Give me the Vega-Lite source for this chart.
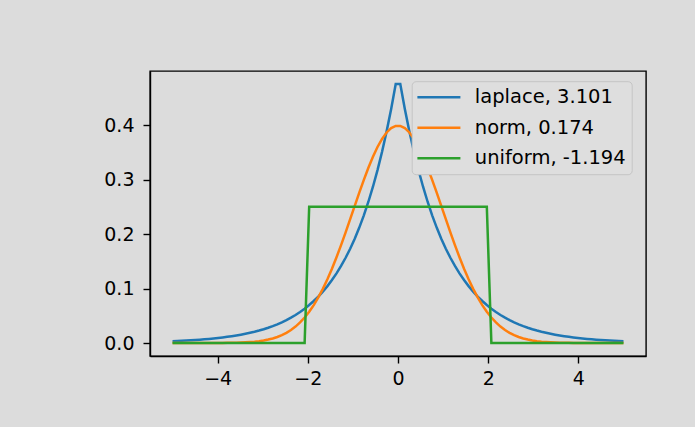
{
"$schema": "https://vega.github.io/schema/vega-lite/v6.json",
"width": 496, "height": 285,
"autosize": {"type": "none"},
"padding": {"left": 150, "top": 71, "right": 49, "bottom": 71},
"background": "#dcdcdc",
"config": {
  "font": "DejaVu Sans",
  "view": {"stroke": "#000000", "strokeWidth": 1.4},
  "axis": {"domainColor": "#000000", "domainWidth": 1.4, "tickColor": "#000000", "tickWidth": 1.4, "tickSize": 7, "labelPadding": 7, "labelFont": "DejaVu Sans", "labelFontSize": 19, "labelColor": "#000000", "grid": false, "title": null},
  "axisY": {"labelPadding": 9},
  "axisX": {"labelPadding": 6}
},
"data": {"values": [
{"x":-5,"l":0.003369,"n":0.0000015,"u":0},
{"x":-4.89899,"l":0.003727,"n":0.0000025,"u":0},
{"x":-4.79798,"l":0.004123,"n":0.000004,"u":0},
{"x":-4.69697,"l":0.004561,"n":0.0000065,"u":0},
{"x":-4.59596,"l":0.005046,"n":0.0000103,"u":0},
{"x":-4.49495,"l":0.005582,"n":0.0000164,"u":0},
{"x":-4.39394,"l":0.006176,"n":0.0000256,"u":0},
{"x":-4.29293,"l":0.006832,"n":0.0000397,"u":0},
{"x":-4.19192,"l":0.007558,"n":0.000061,"u":0},
{"x":-4.09091,"l":0.008361,"n":0.0000927,"u":0},
{"x":-3.9899,"l":0.00925,"n":0.000139,"u":0},
{"x":-3.88889,"l":0.010233,"n":0.000208,"u":0},
{"x":-3.78788,"l":0.011321,"n":0.000306,"u":0},
{"x":-3.68687,"l":0.012524,"n":0.000446,"u":0},
{"x":-3.58586,"l":0.013855,"n":0.000644,"u":0},
{"x":-3.48485,"l":0.015328,"n":0.00092,"u":0},
{"x":-3.38384,"l":0.016957,"n":0.001302,"u":0},
{"x":-3.28283,"l":0.018759,"n":0.001823,"u":0},
{"x":-3.18182,"l":0.020753,"n":0.002527,"u":0},
{"x":-3.08081,"l":0.022959,"n":0.003467,"u":0},
{"x":-2.9798,"l":0.025399,"n":0.004707,"u":0},
{"x":-2.87879,"l":0.028099,"n":0.006327,"u":0},
{"x":-2.77778,"l":0.031085,"n":0.008419,"u":0},
{"x":-2.67677,"l":0.034389,"n":0.011091,"u":0},
{"x":-2.57576,"l":0.038044,"n":0.014465,"u":0},
{"x":-2.47475,"l":0.042088,"n":0.01867,"u":0},
{"x":-2.37374,"l":0.046561,"n":0.023846,"u":0},
{"x":-2.27273,"l":0.05151,"n":0.030146,"u":0},
{"x":-2.17172,"l":0.056985,"n":0.037741,"u":0},
{"x":-2.07071,"l":0.063042,"n":0.046757,"u":0},
{"x":-1.9697,"l":0.069742,"n":0.057336,"u":0.25},
{"x":-1.86869,"l":0.077155,"n":0.069591,"u":0.25},
{"x":-1.76768,"l":0.085355,"n":0.083638,"u":0.25},
{"x":-1.66667,"l":0.094427,"n":0.099476,"u":0.25},
{"x":-1.56566,"l":0.104463,"n":0.117117,"u":0.25},
{"x":-1.46465,"l":0.115566,"n":0.13649,"u":0.25},
{"x":-1.36364,"l":0.127849,"n":0.157443,"u":0.25},
{"x":-1.26263,"l":0.141438,"n":0.179776,"u":0.25},
{"x":-1.16162,"l":0.156471,"n":0.203194,"u":0.25},
{"x":-1.06061,"l":0.173102,"n":0.227326,"u":0.25},
{"x":-0.9596,"l":0.1915,"n":0.251745,"u":0.25},
{"x":-0.85859,"l":0.211854,"n":0.275957,"u":0.25},
{"x":-0.75758,"l":0.234371,"n":0.299427,"u":0.25},
{"x":-0.65657,"l":0.259282,"n":0.321596,"u":0.25},
{"x":-0.55556,"l":0.28684,"n":0.341893,"u":0.25},
{"x":-0.45455,"l":0.317327,"n":0.359782,"u":0.25},
{"x":-0.35354,"l":0.351054,"n":0.374774,"u":0.25},
{"x":-0.25253,"l":0.388367,"n":0.386424,"u":0.25},
{"x":-0.15152,"l":0.429645,"n":0.39439,"u":0.25},
{"x":-0.05051,"l":0.47531,"n":0.398433,"u":0.25},
{"x":0.05051,"l":0.47531,"n":0.398433,"u":0.25},
{"x":0.15152,"l":0.429645,"n":0.39439,"u":0.25},
{"x":0.25253,"l":0.388367,"n":0.386424,"u":0.25},
{"x":0.35354,"l":0.351054,"n":0.374774,"u":0.25},
{"x":0.45455,"l":0.317327,"n":0.359782,"u":0.25},
{"x":0.55556,"l":0.28684,"n":0.341893,"u":0.25},
{"x":0.65657,"l":0.259282,"n":0.321596,"u":0.25},
{"x":0.75758,"l":0.234371,"n":0.299427,"u":0.25},
{"x":0.85859,"l":0.211854,"n":0.275957,"u":0.25},
{"x":0.9596,"l":0.1915,"n":0.251745,"u":0.25},
{"x":1.06061,"l":0.173102,"n":0.227326,"u":0.25},
{"x":1.16162,"l":0.156471,"n":0.203194,"u":0.25},
{"x":1.26263,"l":0.141438,"n":0.179776,"u":0.25},
{"x":1.36364,"l":0.127849,"n":0.157443,"u":0.25},
{"x":1.46465,"l":0.115566,"n":0.13649,"u":0.25},
{"x":1.56566,"l":0.104463,"n":0.117117,"u":0.25},
{"x":1.66667,"l":0.094427,"n":0.099476,"u":0.25},
{"x":1.76768,"l":0.085355,"n":0.083638,"u":0.25},
{"x":1.86869,"l":0.077155,"n":0.069591,"u":0.25},
{"x":1.9697,"l":0.069742,"n":0.057336,"u":0.25},
{"x":2.07071,"l":0.063042,"n":0.046757,"u":0},
{"x":2.17172,"l":0.056985,"n":0.037741,"u":0},
{"x":2.27273,"l":0.05151,"n":0.030146,"u":0},
{"x":2.37374,"l":0.046561,"n":0.023846,"u":0},
{"x":2.47475,"l":0.042088,"n":0.01867,"u":0},
{"x":2.57576,"l":0.038044,"n":0.014465,"u":0},
{"x":2.67677,"l":0.034389,"n":0.011091,"u":0},
{"x":2.77778,"l":0.031085,"n":0.008419,"u":0},
{"x":2.87879,"l":0.028099,"n":0.006327,"u":0},
{"x":2.9798,"l":0.025399,"n":0.004707,"u":0},
{"x":3.08081,"l":0.022959,"n":0.003467,"u":0},
{"x":3.18182,"l":0.020753,"n":0.002527,"u":0},
{"x":3.28283,"l":0.018759,"n":0.001823,"u":0},
{"x":3.38384,"l":0.016957,"n":0.001302,"u":0},
{"x":3.48485,"l":0.015328,"n":0.00092,"u":0},
{"x":3.58586,"l":0.013855,"n":0.000644,"u":0},
{"x":3.68687,"l":0.012524,"n":0.000446,"u":0},
{"x":3.78788,"l":0.011321,"n":0.000306,"u":0},
{"x":3.88889,"l":0.010233,"n":0.000208,"u":0},
{"x":3.9899,"l":0.00925,"n":0.000139,"u":0},
{"x":4.09091,"l":0.008361,"n":0.0000927,"u":0},
{"x":4.19192,"l":0.007558,"n":0.000061,"u":0},
{"x":4.29293,"l":0.006832,"n":0.0000397,"u":0},
{"x":4.39394,"l":0.006176,"n":0.0000256,"u":0},
{"x":4.49495,"l":0.005582,"n":0.0000164,"u":0},
{"x":4.59596,"l":0.005046,"n":0.0000103,"u":0},
{"x":4.69697,"l":0.004561,"n":0.0000065,"u":0},
{"x":4.79798,"l":0.004123,"n":0.000004,"u":0},
{"x":4.89899,"l":0.003727,"n":0.0000025,"u":0},
{"x":5,"l":0.003369,"n":0.0000015,"u":0}
]},
"transform": [{"fold": ["l", "n", "u"], "as": ["k", "v"]}],
"mark": {"type": "line", "strokeWidth": 2.5},
"encoding": {
  "x": {"field": "x", "type": "quantitative", "scale": {"domain": [-5.5, 5.5], "nice": false, "zero": false}, "axis": {"values": [-4, -2, 0, 2, 4], "format": "d"}},
  "y": {"field": "v", "type": "quantitative", "scale": {"domain": [-0.0238, 0.4992], "nice": false, "zero": false}, "axis": {"values": [0, 0.1, 0.2, 0.3, 0.4], "format": ".1f"}},
  "color": {"field": "k", "type": "nominal",
    "scale": {"domain": ["l", "n", "u"], "range": ["#1f77b4", "#ff7f0e", "#2ca02c"]},
    "legend": {"title": null, "orient": "none", "legendX": 261.7, "legendY": 10.2,
      "labelExpr": "datum.label == 'l' ? 'laplace, 3.101' : datum.label == 'n' ? 'norm, 0.174' : 'uniform, -1.194'",
      "labelFont": "DejaVu Sans", "labelFontSize": 19.5, "labelColor": "#000000", "labelLimit": 400,
      "symbolType": "M-2.5,0H2.5", "symbolSize": 296, "symbolStrokeWidth": 2.5,
      "symbolOffset": 11.2, "labelOffset": 25.9, "rowPadding": 10.5,
      "padding": 6, "strokeColor": "#c4c4c4", "fillColor": "#dedede", "cornerRadius": 4}
  }
}
}
